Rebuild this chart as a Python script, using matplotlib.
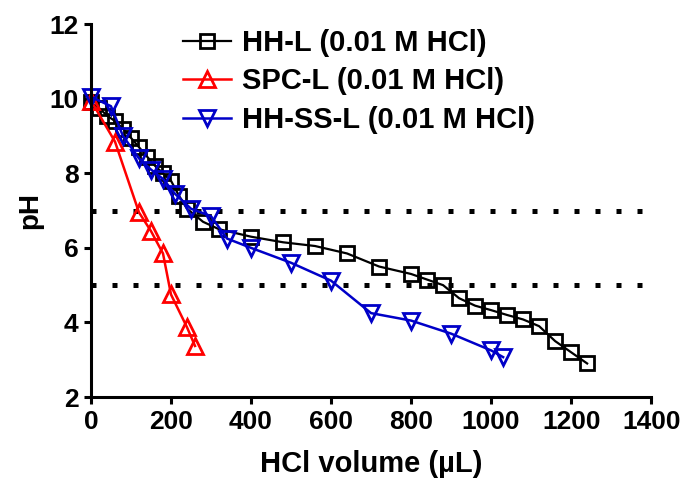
import matplotlib
matplotlib.use('Agg')
import matplotlib.pyplot as plt

plt.rcParams['font.family'] = ['Liberation Sans', 'DejaVu Sans']
plt.rcParams['font.weight'] = 'bold'

# HH-L (0.01 M HCl)
hhl_vol = [0, 20, 40, 60, 80, 100, 120, 140, 160, 180, 200, 220, 240, 280, 320,
           400, 480, 560, 640, 720, 800, 840, 880, 920, 960, 1000, 1040, 1080,
           1120, 1160, 1200, 1240]
hhl_ph = [9.9, 9.75, 9.55, 9.4, 9.2, 8.95, 8.7, 8.45, 8.2, 8.0, 7.8, 7.4, 7.05,
          6.7, 6.5, 6.3, 6.15, 6.05, 5.85, 5.5, 5.3, 5.15, 5.0, 4.65, 4.45, 4.33,
          4.2, 4.08, 3.9, 3.5, 3.2, 2.9]

# SPC-L (0.01 M HCl)
spc_vol = [0, 60, 120, 150, 180, 200, 240, 260]
spc_ph = [9.95, 8.85, 6.95, 6.45, 5.85, 4.75, 3.87, 3.37]

# HH-SS-L (0.01 M HCl)
hhss_vol = [0, 50, 80, 120, 150, 180, 210, 250, 300, 340, 400, 500, 600, 700,
            800, 900, 1000, 1030]
hhss_ph = [10.05, 9.8, 9.0, 8.4, 8.1, 7.85, 7.45, 7.05, 6.85, 6.25, 6.0, 5.6,
           5.12, 4.25, 4.05, 3.7, 3.25, 3.07]

ref_ph = [7, 5]

fig = plt.figure(figsize=(6.84, 4.83), dpi=100)
ax = fig.add_axes([0.133, 0.178, 0.819, 0.772])

for y in ref_ph:
    ax.plot([0, 1400], [y, y], color='black', lw=3.6,
            linestyle=(0, (1, 3.2)), dash_capstyle='butt', clip_on=False)

ax.plot(hhl_vol, hhl_ph, color='black', lw=1.6, marker='s', ms=10,
        mfc='none', mew=2.0, label='HH-L (0.01 M HCl)', clip_on=False)
ax.plot(spc_vol, spc_ph, color='#ff0000', lw=1.8, marker='^', ms=11,
        mfc='none', mew=2.0, label='SPC-L (0.01 M HCl)', clip_on=False)
ax.plot(hhss_vol, hhss_ph, color='#0000c8', lw=1.8, marker='v', ms=11,
        mfc='none', mew=2.0, label='HH-SS-L (0.01 M HCl)', clip_on=False)

ax.set_xlim(0, 1400)
ax.set_ylim(2, 12)
ax.set_xticks(range(0, 1401, 200))
ax.set_yticks(range(2, 13, 2))
ax.spines['top'].set_visible(False)
ax.spines['right'].set_visible(False)
for s in ['left', 'bottom']:
    ax.spines[s].set_linewidth(2.2)
ax.tick_params(width=2.2, length=5, pad=4, labelsize=19)
for lab in ax.get_xticklabels() + ax.get_yticklabels():
    lab.set_fontweight('bold')

ax.set_xlabel('HCl volume (µL)', fontsize=21, fontweight='bold', labelpad=12)
ax.set_ylabel('pH', fontsize=20, fontweight='bold', labelpad=4)

ax.legend(loc='upper left', bbox_to_anchor=(0.268, 0.94), bbox_transform=fig.transFigure,
          frameon=False, prop={'size': 21, 'weight': 'bold'}, handlelength=1.65,
          handletextpad=0.35, labelspacing=0.36, borderaxespad=0, borderpad=0)

fig.savefig('out.png', dpi=100)
